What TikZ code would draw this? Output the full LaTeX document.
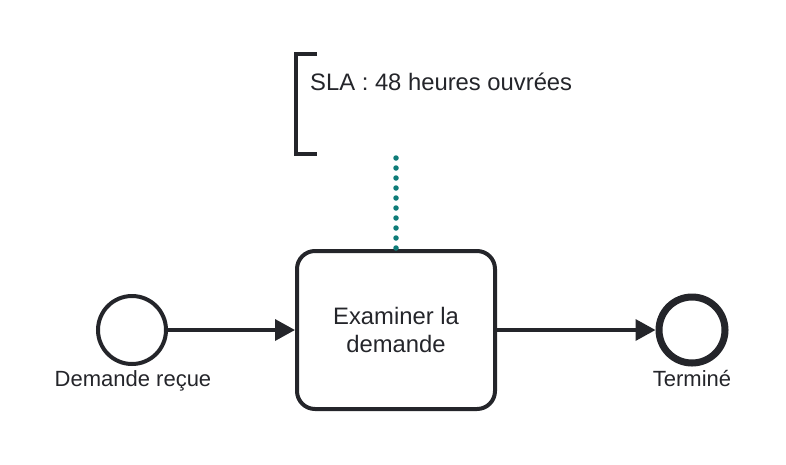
\documentclass[tikz,border=0pt]{standalone}
\usepackage{fontspec}
\setmainfont{Liberation Sans}
\usetikzlibrary{arrows.meta, positioning}

\definecolor{ink}{HTML}{24252A}
\definecolor{assoc}{HTML}{0E7B78}

\begin{document}
\begin{tikzpicture}[x=1pt, y=-1pt, >={Triangle[length=20pt, width=21pt]},
    event/.style={circle, draw=ink, line width=4pt, minimum size=68pt, inner sep=0pt},
    endevent/.style={circle, draw=ink, line width=7pt, minimum size=66pt, inner sep=0pt},
    task/.style={draw=ink, line width=4pt, rounded corners=18pt, minimum width=198pt,
      minimum height=158pt, align=center, font=\fontsize{23.8}{28.5}\selectfont, text=ink},
    lbl/.style={font=\fontsize{22}{26}\selectfont, text=ink, inner sep=0pt},
    flow/.style={->, draw=ink, fill=ink, line width=3.5pt}]
  \useasboundingbox (0,0) rectangle (786,464);
  % events and task
  \node[event] (start) at (132,330) {};
  \node[task] (review) at (396,330) {Examiner la\\demande};
  \node[endevent] (done) at (692,330) {};
  \node[lbl, anchor=base] (startlbl) at (133,386) {Demande reçue};
  \node[lbl, anchor=base] (donelbl) at (692,386) {Terminé};
  % sequence flows
  \draw[flow] (start) -- (review);
  \draw[flow] (review) -- (done);
  % annotation
  \draw[ink, line width=4pt] (317,54) -- (296,54) -- (296,154) -- (317,154);
  \node[lbl, font=\fontsize{23.8}{28}\selectfont, anchor=base west] (sla) at (310,90)
    {SLA : 48 heures ouvrées};
  \coordinate (slafoot) at (396,158);
  \draw[assoc, line width=5.5pt, line cap=round, dash pattern=on 0pt off 10pt]
    (slafoot) -- (review.north);
\end{tikzpicture}
\end{document}
